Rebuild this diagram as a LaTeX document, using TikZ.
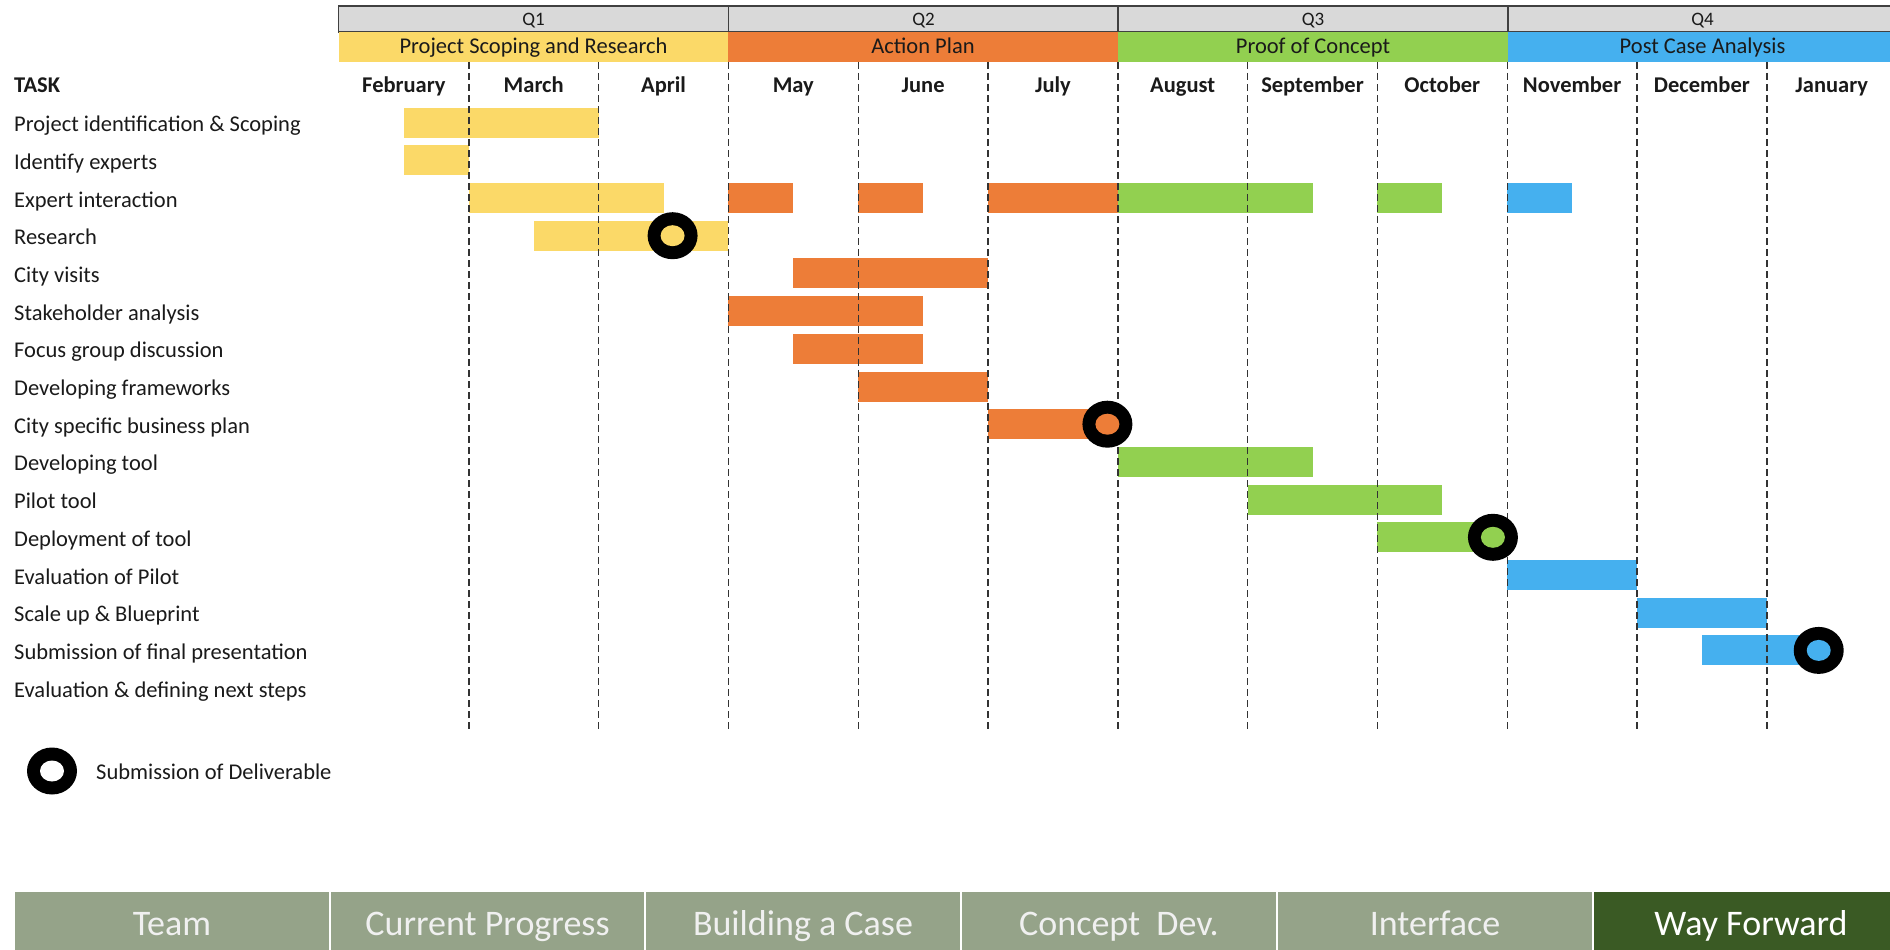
\documentclass[tikz,border=0pt]{standalone}
\usepackage{fontspec}
\setmainfont{Carlito}
\definecolor{yellowbar}{HTML}{FBD968}
\definecolor{orangebar}{HTML}{ED7D38}
\definecolor{greenbar}{HTML}{92D050}
\definecolor{bluebar}{HTML}{45B0EF}
\definecolor{qgrey}{HTML}{D9D9D9}
\definecolor{tabc}{HTML}{95A389}
\definecolor{tabdark}{HTML}{3A5A24}
\definecolor{txt}{HTML}{1A1A1A}
\newcommand\gbarr[4]{\fill[#4] ({339+129.8*#2},{107.6+37.7*(#1-1)}) rectangle ({339+129.8*#3},{137.6+37.7*(#1-1)});}
\newcommand\mstone[3]{%
  \fill[black] ({339+129.8*#2},{122.6+37.7*(#1-1)}) ellipse [x radius=25, y radius=23.5];
  \fill[#3] ({339+129.8*#2},{122.6+37.7*(#1-1)}) ellipse [x radius=12, y radius=10.5];}
\begin{document}
\begin{tikzpicture}[x=1pt,y=-1pt,
  base/.style={font=\fontsize{22.5}{27}\selectfont, text=txt, inner sep=0pt},
  task/.style={base, anchor=base west},
  month/.style={base, anchor=base, font=\fontsize{22.5}{27}\selectfont\bfseries},
  qcell/.style={draw=black!75, line width=1.2pt, fill=qgrey, minimum height=26, minimum width=390, inner sep=0pt},
  qlab/.style={base, anchor=base, font=\fontsize{19}{22}\selectfont},
  phase/.style={minimum height=30, minimum width=390, inner sep=0pt},
  plab/.style={base, anchor=base},
  grid/.style={dash pattern=on 7pt off 4pt, line width=1.4pt, black!80},
  tab/.style={fill=tabc, draw=white, line width=2pt, minimum height=60, minimum width=316, inner sep=0pt},
  tablab/.style={anchor=base, inner sep=0pt, font=\fontsize{36}{40}\selectfont, text=white!94!black}
]
\useasboundingbox (0,0) rectangle (1890,950);
\fill[white] (0,0) rectangle (1890,950);

% quarter header
\node[qcell] (q1) at (533.5,19) {};
\node[qcell] (q2) at (923.5,19) {};
\node[qcell] (q3) at (1313,19) {};
\node[qcell, minimum width=389] (q4) at (1702.5,19) {};
\node[qlab] (q1l) at (533.5,25.5) {Q1};
\node[qlab] (q2l) at (923.5,25.5) {Q2};
\node[qlab] (q3l) at (1313,25.5) {Q3};
\node[qlab] (q4l) at (1702.5,25.5) {Q4};

% phase row
\node[phase, fill=yellowbar, minimum width=389] (p1) at (533.5,47) {};
\node[phase, fill=orangebar] (p2) at (923,47) {};
\node[phase, fill=greenbar] (p3) at (1313,47) {};
\node[phase, fill=bluebar, minimum width=389] (p4) at (1702.5,47) {};
\node[plab] (p1l) at (533.5,54) {Project Scoping and Research};
\node[plab] (p2l) at (923,54) {Action Plan};
\node[plab] (p3l) at (1313,54) {Proof of Concept};
\node[plab] (p4l) at (1702.5,54) {Post Case Analysis};

% months
\node[month] (m0) at ({339+129.8*0.5},92.5) {February};
\node[month] (m1) at ({339+129.8*1.5},92.5) {March};
\node[month] (m2) at ({339+129.8*2.5},92.5) {April};
\node[month] (m3) at ({339+129.8*3.5},92.5) {May};
\node[month] (m4) at ({339+129.8*4.5},92.5) {June};
\node[month] (m5) at ({339+129.8*5.5},92.5) {July};
\node[month] (m6) at ({339+129.8*6.5},92.5) {August};
\node[month] (m7) at ({339+129.8*7.5},92.5) {September};
\node[month] (m8) at ({339+129.8*8.5},92.5) {October};
\node[month] (m9) at ({339+129.8*9.5},92.5) {November};
\node[month] (m10) at ({339+129.8*10.5},92.5) {December};
\node[month] (m11) at ({339+129.8*11.5},92.5) {January};

% tasks
\node[task, font=\fontsize{22.5}{27}\selectfont\bfseries] (task) at (14,92.5) {TASK};
\node[task] (t1) at (14,{131.6+37.7*0}) {Project identification \& Scoping};
\node[task] (t2) at (14,{131.6+37.7*1}) {Identify experts};
\node[task] (t3) at (14,{131.6+37.7*2}) {Expert interaction};
\node[task] (t4) at (14,{131.6+37.7*3}) {Research};
\node[task] (t5) at (14,{131.6+37.7*4}) {City visits};
\node[task] (t6) at (14,{131.6+37.7*5}) {Stakeholder analysis};
\node[task] (t7) at (14,{131.6+37.7*6}) {Focus group discussion};
\node[task] (t8) at (14,{131.6+37.7*7}) {Developing frameworks};
\node[task] (t9) at (14,{131.6+37.7*8}) {City specific business plan};
\node[task] (t10) at (14,{131.6+37.7*9}) {Developing tool};
\node[task] (t11) at (14,{131.6+37.7*10}) {Pilot tool};
\node[task] (t12) at (14,{131.6+37.7*11}) {Deployment of tool};
\node[task] (t13) at (14,{131.6+37.7*12}) {Evaluation of Pilot};
\node[task] (t14) at (14,{131.6+37.7*13}) {Scale up \& Blueprint};
\node[task] (t15) at (14,{131.6+37.7*14}) {Submission of final presentation};
\node[task] (t16) at (14,{131.6+37.7*15}) {Evaluation \& defining next steps};

% bars
\gbarr{1}{0.5}{2.0}{yellowbar}
\gbarr{2}{0.5}{1.0}{yellowbar}
\gbarr{3}{1.0}{2.5}{yellowbar}
\gbarr{3}{3.0}{3.5}{orangebar}
\gbarr{3}{4.0}{4.5}{orangebar}
\gbarr{3}{5.0}{6.0}{orangebar}
\gbarr{3}{6.0}{7.5}{greenbar}
\gbarr{3}{8.0}{8.5}{greenbar}
\gbarr{3}{9.0}{9.5}{bluebar}
\gbarr{4}{1.5}{3.0}{yellowbar}
\gbarr{5}{3.5}{5.0}{orangebar}
\gbarr{6}{3.0}{4.5}{orangebar}
\gbarr{7}{3.5}{4.5}{orangebar}
\gbarr{8}{4.0}{5.0}{orangebar}
\gbarr{9}{5.0}{5.85}{orangebar}
\gbarr{10}{6.0}{7.5}{greenbar}
\gbarr{11}{7.0}{8.5}{greenbar}
\gbarr{12}{8.0}{8.8}{greenbar}
\gbarr{13}{9.0}{10.0}{bluebar}
\gbarr{14}{10.0}{11.0}{bluebar}
\gbarr{15}{10.5}{11.3}{bluebar}

% dashed month dividers
\foreach \k in {1,...,11}
  \draw[grid] ({339+129.8*\k},62) -- ({339+129.8*\k},729);

% milestones
\mstone{4}{2.57}{yellowbar}
\mstone{9}{5.92}{orangebar}
\mstone{12}{8.89}{greenbar}
\mstone{15}{11.4}{bluebar}

% legend
\fill[black] (52,771) ellipse [x radius=25, y radius=23.5];
\fill[white] (52,771) ellipse [x radius=12, y radius=10.5];
\node[task] (leg) at (96,779) {Submission of Deliverable};

% navigation tabs
\node[tab] (n1) at (172,921) {};
\node[tab] (n2) at (487.5,921) {};
\node[tab] (n3) at (803,921) {};
\node[tab] (n4) at (1119,921) {};
\node[tab] (n5) at (1435,921) {};
\node[tab, fill=tabdark] (n6) at (1751,921) {};
\node[tablab] (n1l) at (172,935) {Team};
\node[tablab] (n2l) at (487.5,935) {Current Progress};
\node[tablab] (n3l) at (803,935) {Building a Case};
\node[tablab] (n4l) at (1119,935) {Concept\ \ Dev.};
\node[tablab] (n5l) at (1435,935) {Interface};
\node[tablab, text=white] (n6l) at (1751,935) {Way Forward};
\end{tikzpicture}
\end{document}
